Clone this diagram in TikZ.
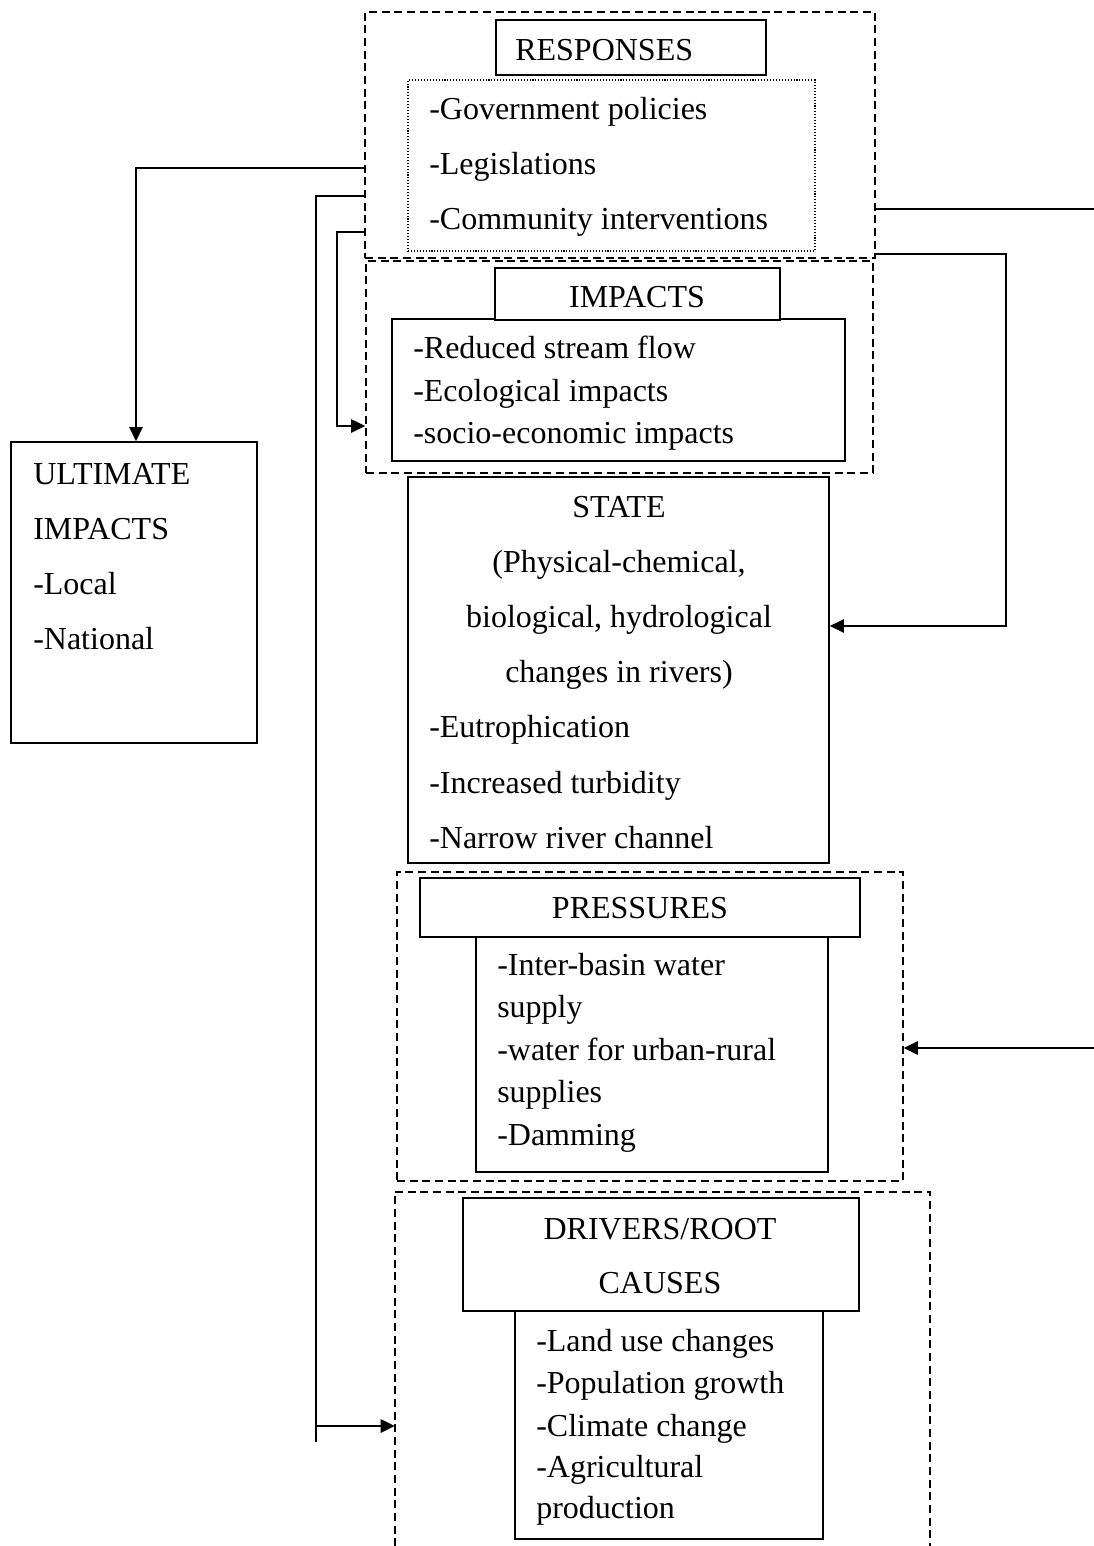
\documentclass[tikz,border=0pt]{standalone}
\usepackage{fontspec}
\setmainfont{Liberation Serif}
\usetikzlibrary{arrows.meta,fit}
\begin{document}
\begin{tikzpicture}[x=0.75pt,y=-0.75pt,
  font=\fontsize{24}{28}\selectfont,
  solidbox/.style={draw,line width=1.3pt,inner sep=0pt,fill=white},
  dashbox/.style={draw,line width=1.2pt,dash pattern=on 6pt off 3.5pt,inner sep=0pt},
  dotbox/.style={draw,line width=1pt,dash pattern=on 0.8pt off 1.4pt,inner sep=0pt},
  frame/.style={draw=none,inner sep=0pt},
  txt/.style={anchor=base west,inner sep=0pt},
  ctxt/.style={anchor=base,inner sep=0pt},
  conn/.style={line width=1.2pt},
  arr/.style={line width=1.2pt,-{Triangle[length=10.5pt,width=10pt]}}]
\useasboundingbox (0,0) rectangle (1094,1546);

% ---------- RESPONSES ----------
\node[dashbox,fit={(365,12) (875,258)}] (resp) {};
\node[solidbox,fit={(496,20) (766,75)}] (resptitle) {};
\node[dotbox,fit={(408,80) (815,251)}] (respbody) {};
\node[txt] (r0) at (515,60) {RESPONSES};
\node[txt] (r1) at (429,119) {-Government policies};
\node[txt] (r2) at (429,174) {-Legislations};
\node[txt] (r3) at (429,229) {-Community interventions};

% ---------- IMPACTS ----------
\node[dashbox,fit={(366,261) (873,473)}] (imp) {};
\node[solidbox,fit={(392,319) (845,461)}] (impbody) {};
\node[solidbox,fit={(495,268) (780,320)}] (imptitle) {};
\node[ctxt] (i0) at (637,307) {IMPACTS};
\node[txt] (i1) at (413,358) {-Reduced stream flow};
\node[txt] (i2) at (413,401) {-Ecological impacts};
\node[txt] (i3) at (413,443) {-socio-economic impacts};

% ---------- STATE ----------
\node[solidbox,fit={(408,477) (829,863)}] (state) {};
\node[ctxt] (s0) at (619,517) {STATE};
\node[ctxt] (s1) at (619,572) {(Physical-chemical,};
\node[ctxt] (s2) at (619,627) {biological, hydrological};
\node[ctxt] (s3) at (619,682) {changes in rivers)};
\node[txt] (s4) at (429,737) {-Eutrophication};
\node[txt] (s5) at (429,793) {-Increased turbidity};
\node[txt] (s6) at (429,848) {-Narrow river channel};

% ---------- PRESSURES ----------
\node[dashbox,fit={(397,872) (903,1181)}] (prs) {};
\node[solidbox,fit={(476,937) (828,1172)}] (prsbody) {};
\node[solidbox,fit={(420,878) (860,937)}] (prstitle) {};
\node[ctxt] (p0) at (640,918) {PRESSURES};
\node[txt] (p1) at (497,975) {-Inter-basin water};
\node[txt] (p2) at (497,1017) {supply};
\node[txt] (p3) at (497,1060) {-water for urban-rural};
\node[txt] (p4) at (497,1102) {supplies};
\node[txt] (p5) at (497,1145) {-Damming};

% ---------- DRIVERS ----------
\node[frame,fit={(395,1192) (930,1546)}] (drv) {};
\draw[line width=1.2pt,dash pattern=on 6pt off 3.5pt] (drv.south west) |- (drv.north east) -- (drv.south east);
\node[solidbox,fit={(515,1311) (823,1539)}] (drvbody) {};
\node[solidbox,fit={(463,1198) (859,1311)}] (drvtitle) {};
\node[ctxt] (d0) at (660,1239) {DRIVERS/ROOT};
\node[ctxt] (d1) at (660,1293) {CAUSES};
\node[txt] (d2) at (536,1351) {-Land use changes};
\node[txt] (d3) at (536,1393) {-Population growth};
\node[txt] (d4) at (536,1436) {-Climate change};
\node[txt] (d5) at (536,1477) {-Agricultural};
\node[txt] (d6) at (536,1518) {production};

% ---------- ULTIMATE IMPACTS ----------
\node[solidbox,fit={(11,442) (257,743)}] (ult) {};
\node[txt] (u1) at (33,484) {ULTIMATE};
\node[txt] (u2) at (33,539) {IMPACTS};
\node[txt] (u3) at (33,594) {-Local};
\node[txt] (u4) at (33,649) {-National};

% ---------- connectors ----------
\coordinate (c1) at (136,168);
\draw[arr] (resp.west |- c1) -- (c1) -- (c1 |- ult.north);

\coordinate (c2) at (316,196);
\coordinate (c2b) at (316,1426);
\coordinate (c2e) at (316,1442);
\draw[conn] (resp.west |- c2) -- (c2) -- (c2e);
\draw[arr] (c2b) -- (drv.west |- c2b);

\coordinate (c3) at (337,232);
\coordinate (c3b) at (337,426);
\draw[arr] (resp.west |- c3) -- (c3) -- (c3b) -- (imp.west |- c3b);

\coordinate (c4) at (1094,209);
\draw[conn] (resp.east |- c4) -- (c4);
\coordinate (c4b) at (1094,1048);
\draw[arr] (c4b) -- (prs.east |- c4b);

\coordinate (c5) at (1006,254);
\coordinate (c5b) at (1006,626);
\draw[arr] (resp.east |- c5) -- (c5) -- (c5b) -- (state.east |- c5b);
\end{tikzpicture}
\end{document}
